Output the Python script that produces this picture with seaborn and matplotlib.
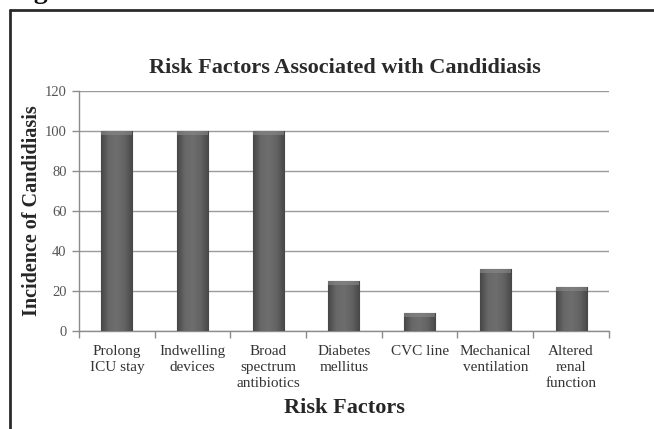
import numpy as np
import pandas as pd
import matplotlib
matplotlib.use("Agg")
import matplotlib.pyplot as plt
from matplotlib.lines import Line2D
from matplotlib.colors import LinearSegmentedColormap
import seaborn as sns

# Risk factors and incidence values
factors = ["Prolong\nICU stay", "Indwelling\ndevices", "Broad\nspectrum\nantibiotics",
           "Diabetes\nmellitus", "CVC line", "Mechanical\nventilation",
           "Altered\nrenal\nfunction"]
incidence = [100, 100, 100, 25, 9, 31, 22]
y_ticks = [0, 20, 40, 60, 80, 100, 120]

df = pd.DataFrame({"factor": factors, "incidence": incidence})

sns.set_theme(style="white")
plt.rcParams["font.family"] = ["Liberation Serif", "DejaVu Serif"]

fig = plt.figure(figsize=(6.54, 4.29), dpi=100)
fig.patch.set_facecolor("white")
ax = fig.add_axes([0.1208, 0.2284, 0.931 - 0.1208, 0.7879 - 0.2284])

sns.barplot(data=df, x="factor", y="incidence", ax=ax, color="#5e5e5e",
            width=0.41, edgecolor="#3c3c3c", linewidth=0.8, saturation=1, zorder=3)

# cylinder-like shading on every bar
shade = LinearSegmentedColormap.from_list(
    "shade", ["#464646", "#686868", "#6e6e6e", "#626262", "#464646"])
grad = np.linspace(0, 1, 256).reshape(1, -1)
for p in ax.patches:
    x0, y0 = p.get_x(), p.get_y()
    w, h = p.get_width(), p.get_height()
    im = ax.imshow(grad, cmap=shade, aspect="auto",
                   extent=[x0, x0 + w, y0, y0 + h], zorder=3.5,
                   interpolation="bicubic")
    im.set_clip_path(p)
    # lighter cap at the top of the bar
    ax.fill_between([x0, x0 + w], y0 + h - 2.2, y0 + h, color="#8a8a8a",
                    alpha=0.6, zorder=3.6, linewidth=0)

ax.set_xlim(-0.5, len(factors) - 0.5)
ax.set_ylim(0, 120)
ax.set_yticks(y_ticks)
ax.set_yticklabels([str(v) for v in y_ticks])
ax.yaxis.grid(True, color="#9a9a9a", linewidth=1.0, zorder=0)
ax.set_axisbelow(True)

# category separators as tick marks on the x axis
ax.set_xticks(range(len(factors)))
ax.set_xticklabels(factors, fontsize=11, color="#333333", linespacing=1.3, va="top")
ax.tick_params(axis="x", which="major", length=0, pad=10)
ax.set_xticks(np.arange(-0.5, len(factors), 1.0), minor=True)
ax.tick_params(axis="x", which="minor", length=5, width=1, color="#8c8c8c",
               direction="out", bottom=True)
ax.tick_params(axis="y", length=5, width=1, color="#8c8c8c", direction="out",
               left=True, labelsize=10.5, labelcolor="#555555", pad=4)

for side in ["top", "right"]:
    ax.spines[side].set_visible(False)
for side in ["left", "bottom"]:
    ax.spines[side].set_color("#8c8c8c")
    ax.spines[side].set_linewidth(1.0)

ax.set_xlabel("Risk Factors", fontsize=16, fontweight="bold", color="#262626",
              labelpad=6)
ax.set_ylabel("Incidence of Candidiasis", fontsize=14.5, fontweight="bold",
              color="#262626", labelpad=2)
fig.text(0.527, 1 - 68 / 429, "Risk Factors Associated with Candidiasis",
         ha="center", va="center", fontsize=16, fontweight="bold", color="#2a2a2a")

# outer frame (left and top edges)
fig.add_artist(Line2D([9.5 / 654, 9.5 / 654], [0, 1 - 10 / 429],
                      transform=fig.transFigure, color="#2a2a2a", linewidth=2.0))
fig.add_artist(Line2D([9.5 / 654, 1], [1 - 10 / 429, 1 - 10 / 429],
                      transform=fig.transFigure, color="#2a2a2a", linewidth=2.0))
# figure caption above the frame, mostly outside the canvas
fig.text(10 / 654, 1 + 2 / 429, "Fig", ha="left", va="baseline", fontsize=20,
         fontweight="bold", color="#111111")

fig.savefig("out.png", dpi=100)
